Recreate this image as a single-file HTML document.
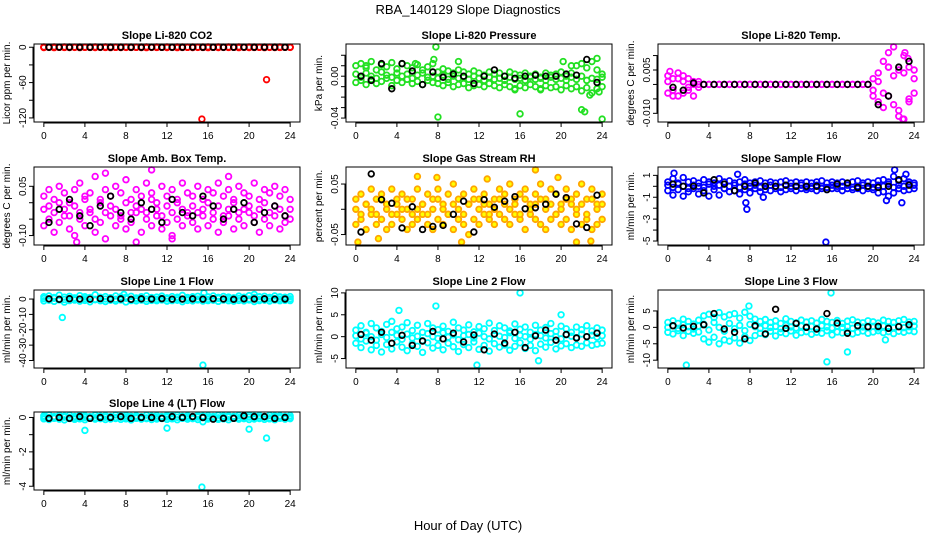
<!DOCTYPE html>
<html><head><meta charset="utf-8"><title>RBA_140129 Slope Diagnostics</title>
<style>
html,body{margin:0;padding:0;background:#fff;}
svg{display:block;font-family:"Liberation Sans",Arial,sans-serif;}
</style></head>
<body>
<svg id="chart" width="936" height="540" viewBox="0 0 936 540">
<text x="468" y="14" text-anchor="middle" font-size="13">RBA_140129  Slope Diagnostics</text>
<text x="468" y="530" text-anchor="middle" font-size="13">Hour of Day (UTC)</text>
</svg>
<script>
const hoursHalf=[0,0.5,1,1.5,2,2.5,3,3.5,4,4.5,5,5.5,6,6.5,7,7.5,8,8.5,9,9.5,10,10.5,11,11.5,12,12.5,13,13.5,14,14.5,15,15.5,16,16.5,17,17.5,18,18.5,19,19.5,20,20.5,21,21.5,22,22.5,23,23.5,24];
const hoursBlack=[0.5,1.5,2.5,3.5,4.5,5.5,6.5,7.5,8.5,9.5,10.5,11.5,12.5,13.5,14.5,15.5,16.5,17.5,18.5,19.5,20.5,21.5,22.5,23.5];
const xTicks=[0,4,8,12,16,20,24];

// CO2
const co2A=[0.5,0.3,0.6,0.2,0.4,0.5,0.3,0.6,0.2,0.4,0.5,0.3,0.4,0.6,0.2,0.5,0.3,0.4,0.2,0.5,0.6,0.3,0.4,0.2,0.5,0.3,0.6,0.4,0.2,0.5,0.3,0.4,0.6,0.2,0.5,0.3,0.4,0.2,0.6,0.3,0.5,0.4,0.2,0.6,0.3,0.5,0.4,0.2,0.3];
const co2B=[-0.5,-0.3,-0.6,-0.2,-0.4,-0.5,-0.3,-0.6,-0.2,-0.4,-0.5,-0.3,-0.4,-0.6,-0.2,-0.5,-0.3,-0.4,-0.2,-0.5,-0.6,-0.3,-0.4,-0.2,-0.5,-0.3,-0.6,-0.4,-0.2,-0.5,-0.3,-0.4,-0.6,-0.2,-0.5,-0.3,-0.4,-0.2,-0.6,-0.3,-0.5,-0.4,-0.2,-0.6,-0.3,-0.5,-0.4,-0.2,-0.3];
const co2C=[0,0.1,-0.1,0,0.1,0,-0.1,0,0.1,0,-0.1,0,0,0.1,0,-0.1,0,0.1,0,0,-0.1,0,0.1,0,0,-0.1,0,0.1,0,0,-0.1,0,0.1,0,0,-0.1,0,0.1,0,0,-0.1,0,0.1,0,0,-0.1,0,0.1,0];
const co2K=[0,0.1,0,-0.1,0,0.1,0,-0.1,0,0,0.1,0,-0.1,0,0.1,0,0,-0.1,0,0.1,0,0,-0.1,0];
const co2OutX=[15.4,21.7];
const co2OutY=[-122,-55];
const co2Ticks=[0,-30,-60,-90,-120];
const co2Labels=["0","","-60","","-120"];

// Pressure
const presA=[0.010,0.012,0.008,0.014,0.006,0.011,0.009,0.013,0.007,0.012,0.010,0.008,0.011,0.006,0.009,0.012,0.004,0.007,0.005,0.003,0.006,0.004,0.002,0.005,0.003,0.001,0.004,0.002,0.003,0.000,0.004,0.002,0.001,0.003,0.000,0.002,-0.001,0.003,0.001,0.002,0.004,0.000,0.003,0.010,0.012,0.008,0.014,0.006,0.002];
const presB=[-0.006,-0.004,-0.008,-0.003,-0.007,-0.005,-0.002,-0.009,-0.004,-0.006,-0.003,-0.007,-0.005,-0.008,-0.004,-0.006,-0.007,-0.009,-0.006,-0.010,-0.008,-0.007,-0.011,-0.009,-0.008,-0.010,-0.007,-0.009,-0.011,-0.008,-0.010,-0.012,-0.009,-0.011,-0.008,-0.010,-0.012,-0.009,-0.011,-0.010,-0.013,-0.009,-0.012,-0.010,-0.014,-0.011,-0.016,-0.012,-0.010];
const presC=[0.002,-0.001,0.003,0.000,-0.002,0.004,0.001,-0.001,0.003,0.000,0.002,-0.002,0.001,0.003,-0.001,0.000,-0.002,0.001,-0.003,0.000,-0.002,-0.001,-0.003,0.000,-0.002,-0.004,-0.001,-0.003,-0.002,-0.004,-0.001,-0.003,-0.002,-0.004,-0.001,-0.003,-0.002,-0.004,-0.001,-0.003,-0.002,-0.004,-0.001,-0.003,0.000,-0.004,-0.002,-0.003,-0.001];
const presK=[0.000,-0.004,0.012,-0.012,0.012,0.005,-0.008,0.004,-0.001,0.002,0.000,-0.007,0.000,0.006,0.000,-0.002,0.000,0.001,0.000,0.000,0.002,0.001,0.016,-0.006];
const presOutX=[7.8,8.0,7.6,1.0,5.8,10.0,15.5,16.0,18.0,22.0,22.3,22.8,23.5,23.7,24.0,20.2,21.0];
const presOutY=[0.028,-0.039,0.016,0.010,0.012,0.014,-0.013,-0.036,-0.013,-0.032,-0.034,-0.018,0.017,-0.015,-0.041,0.014,0.010];
const presTicks=[0.02,0.01,0,-0.01,-0.02,-0.03,-0.04];
const presLabels=["","","0.00","","","","-0.04"];

// Li-820 Temp
const tempA=[0.003,-0.002,0.004,-0.003,0.002,-0.004,0.001,0,0,0,0,0,0,0,0,0,0,0,0,0,0,0,0,0,0,0,0,0,0,0,0,0,0,0,0,0,0,0,0,0,0.002,-0.006,0.008,-0.004,0.013,-0.011,0.010,0.006,-0.003];
const tempB=[-0.003,0.002,-0.004,0.003,-0.002,0.001,-0.001,0,0,0,0,0,0,0,0,0,0,0,0,0,0,0,0,0,0,0,0,0,0,0,0,0,0,0,0,0,0,0,0,0,-0.002,0.004,-0.008,0.006,-0.007,0.005,-0.012,-0.005,0.002];
const tempC=[0.001,-0.004,0.002,0.001,-0.001,0,0,0,0,0,0,0,0,0,0,0,0,0,0,0,0,0,0,0,0,0,0,0,0,0,0,0,0,0,0,0,0,0,0,0,-0.004,0.001,-0.003,0.011,0.003,-0.009,0.004,-0.006,0.005];
const tempK=[-0.001,-0.002,0.0005,0,0,0,0,0,0,0,0,0,0,0,0,0,0,0,0,0,-0.007,-0.004,0.006,0.008];
const tempOutX=[0.2,21.5,22.9,23.1,23.4];
const tempOutY=[0.0045,0.006,-0.012,0.011,0.009];
const tempTicks=[0.010,0.005,0,-0.005,-0.010];
const tempLabels=["","0.005","","","-0.010"];

// Amb Box Temp
const ambA=[0.02,0.04,0.01,0.05,0.03,0.00,0.04,0.06,0.02,0.03,0.08,0.01,0.04,0.02,0.05,0.03,0.07,0.01,0.04,0.02,0.06,0.03,0.00,0.05,0.02,0.04,0.01,0.06,0.03,0.02,0.05,0.01,0.04,0.03,0.06,0.02,0.04,0.00,0.05,0.03,0.02,0.06,0.01,0.04,0.03,0.05,0.02,0.04,0.01];
const ambB=[-0.07,-0.05,-0.09,-0.06,-0.04,-0.08,-0.10,-0.05,-0.07,-0.03,-0.09,-0.06,-0.11,-0.04,-0.07,-0.05,-0.08,-0.06,-0.03,-0.09,-0.05,-0.07,-0.04,-0.08,-0.06,-0.10,-0.05,-0.07,-0.03,-0.06,-0.08,-0.04,-0.07,-0.05,-0.09,-0.06,-0.04,-0.08,-0.05,-0.07,-0.03,-0.06,-0.09,-0.05,-0.07,-0.04,-0.08,-0.06,-0.05];
const ambC=[-0.02,-0.01,-0.03,0.00,-0.02,-0.04,-0.01,-0.03,0.01,-0.02,-0.05,0.00,-0.03,-0.01,-0.02,-0.04,0.00,-0.03,-0.01,-0.02,-0.03,0.01,-0.02,-0.04,-0.01,-0.03,0.00,-0.02,-0.04,-0.01,-0.03,-0.02,0.00,-0.03,-0.01,-0.04,-0.02,0.01,-0.03,-0.02,-0.01,-0.04,-0.02,0.00,-0.03,-0.01,-0.02,-0.04,-0.02];
const ambK=[-0.06,-0.02,0.01,-0.04,-0.07,-0.01,0.02,-0.03,-0.05,0.00,-0.02,-0.06,0.01,-0.03,-0.04,0.02,-0.01,-0.05,-0.02,0.00,-0.06,-0.03,-0.01,-0.04];
const ambOutX=[10.5,3.2,6.0,12.5,18.0,9.0];
const ambOutY=[0.10,-0.12,0.09,-0.11,0.08,-0.12];
const ambTicks=[0.05,0,-0.05,-0.10];
const ambLabels=["0.05","","","-0.10"];

// Gas Stream RH
const rhA=[0.02,0.03,0.01,0.04,0.02,0.03,0.01,0.04,0.02,0.03,0.00,0.02,0.04,0.01,0.03,0.02,0.04,0.01,0.03,0.05,0.02,0.03,0.01,0.04,0.02,0.03,0.01,0.02,0.04,0.03,0.05,0.02,0.03,0.04,0.01,0.03,0.05,0.02,0.04,0.03,0.01,0.04,0.02,0.03,0.05,0.02,0.04,0.01,0.03];
const rhB=[-0.03,-0.02,-0.04,-0.01,-0.03,-0.02,-0.04,-0.03,-0.01,-0.02,-0.04,-0.03,-0.02,-0.01,-0.03,-0.04,-0.02,-0.03,-0.01,-0.04,-0.02,-0.03,-0.05,-0.02,-0.03,-0.01,-0.02,-0.03,-0.01,-0.02,-0.03,-0.01,-0.02,-0.04,-0.01,-0.02,-0.03,-0.04,-0.02,-0.01,-0.03,-0.02,-0.04,-0.01,-0.03,-0.02,-0.04,-0.03,-0.02];
const rhC=[0.00,-0.01,0.01,0.00,-0.01,0.02,0.00,-0.01,0.01,0.00,0.02,-0.01,0.00,0.01,-0.01,0.00,0.02,0.00,-0.01,0.01,0.00,-0.01,0.01,0.02,0.00,0.01,-0.01,0.00,0.02,0.01,0.00,0.01,-0.01,0.02,0.00,0.01,0.02,0.00,0.01,-0.01,0.00,0.02,0.01,0.00,0.01,-0.01,0.02,0.00,0.01];
const rhK=[-0.045,0.070,0.019,0.012,-0.037,0.005,-0.040,-0.034,-0.032,-0.010,0.016,-0.045,0.019,0.004,0.016,0.025,0.001,0.003,0.010,0.030,0.023,-0.029,-0.036,0.028];
const rhOutX=[0.2,6.0,7.9,10.3,12.8,17.5,19.7,22.9,21.5,2.2];
const rhOutY=[-0.065,0.065,0.063,-0.065,0.060,0.078,0.063,-0.063,-0.065,-0.058];
const rhTicks=[0.05,0,-0.05];
const rhLabels=["0.05","","-0.05"];

// Sample Flow
const sfA=[0.4,0.7,0.3,0.8,0.4,0.5,0.3,0.6,0.4,0.3,0.7,0.4,0.5,0.3,0.4,0.6,0.3,0.4,0.5,0.3,0.4,0.3,0.4,0.5,0.3,0.4,0.3,0.4,0.3,0.4,0.5,0.3,0.4,0.3,0.4,0.3,0.4,0.5,0.3,0.4,0.3,0.5,0.6,0.4,0.9,0.5,0.7,0.4,0.3];
const sfB=[-0.4,-0.8,-0.3,-0.9,-0.5,-0.2,-0.7,-0.4,-0.9,-0.3,-0.8,-0.2,-0.5,-0.4,-0.7,-0.3,-0.6,-0.2,-0.5,-0.3,-0.4,-0.2,-0.5,-0.3,-0.2,-0.4,-0.2,-0.3,-0.2,-0.4,-0.2,-0.3,-0.2,-0.2,-0.4,-0.2,-0.3,-0.2,-0.4,-0.2,-0.3,-0.6,-0.5,-0.9,-0.6,-0.2,-0.4,-0.3,-0.2];
const sfC=[0.1,-0.1,0.2,0.0,-0.2,0.1,0.0,-0.1,0.2,0.0,0.1,-0.2,0.0,0.1,-0.1,0.2,0.0,0.1,-0.1,0.0,0.1,0.0,-0.1,0.1,0.0,0.0,0.1,-0.1,0.0,0.1,0.0,-0.1,0.1,0.0,0.0,0.1,-0.1,0.0,0.1,0.0,-0.1,0.1,0.0,0.2,-0.1,0.1,0.0,0.2,0.1];
const sfK=[0.2,0.0,0.0,-0.6,0.6,0.2,-0.4,0.0,0.3,0.0,0.0,0.1,0.0,0.0,0.0,-0.3,0.2,0.3,-0.1,0.0,-0.1,0.0,0.6,0.1];
const sfOutX=[0.6,6.8,7.6,7.7,9.3,15.4,21.3,22.1,22.8,23.2];
const sfOutY=[1.2,1.1,-1.5,-2.1,-1.0,-5.1,-1.3,1.5,-1.5,1.1];
const sfTicks=[1,0,-1,-2,-3,-4,-5];
const sfLabels=["1","","-1","","-3","","-5"];

// Line 1
const l1A=[1.5,2.0,1.0,2.5,1.2,1.8,0.8,2.2,1.5,1.0,2.8,1.2,1.6,0.9,2.0,1.4,1.1,1.8,0.7,1.5,2.1,1.0,1.3,1.9,0.8,1.6,1.2,2.4,1.0,1.5,1.8,0.9,1.4,2.0,1.1,1.7,1.3,0.8,1.9,1.2,2.2,1.0,1.5,1.8,1.1,2.0,1.4,1.2,1.6];
const l1B=[-1.2,-0.8,-1.5,-0.6,-2.0,-1.0,-0.7,-1.4,-0.9,-1.8,-0.5,-1.1,-1.6,-0.8,-1.3,-0.6,-1.9,-1.0,-1.2,-0.7,-1.5,-0.9,-1.1,-0.6,-1.4,-1.0,-0.8,-1.7,-0.9,-1.2,-0.6,-1.3,-1.0,-0.8,-1.5,-0.7,-1.1,-1.4,-0.9,-1.2,-0.6,-1.6,-1.0,-0.8,-1.3,-0.7,-1.1,-0.9,-1.0];
const l1C=[0.3,-0.2,0.5,0.0,-0.3,0.4,0.1,-0.1,0.2,0.6,-0.2,0.3,0.0,0.4,-0.1,0.2,0.5,-0.3,0.1,0.3,0.0,0.2,-0.2,0.4,0.1,0.0,0.3,-0.1,0.2,0.5,0.0,0.3,-0.2,0.1,0.4,0.0,0.2,-0.1,0.3,0.1,0.0,0.4,-0.2,0.2,0.1,0.3,0.0,0.2,0.1];
const l1K=[0.1,-0.2,0.2,0.0,-0.1,0.3,0.0,0.1,-0.2,0.1,0.0,0.2,-0.1,0.0,0.1,-0.1,0.2,0.0,-0.2,0.1,0.0,0.1,-0.1,0.0];
const l1OutX=[15.5,1.8,15.6,7.8,20.5];
const l1OutY=[-43,-12,4,3,3];
const l1Ticks=[0,-10,-20,-30,-40];
const l1Labels=["0","-10","-20","-30","-40"];

// Line 2
const l2A=[1.5,2.5,1.0,3.0,2.0,1.2,2.8,3.5,1.8,2.2,3.2,1.4,2.6,1.0,3.0,2.0,1.6,2.4,1.2,3.3,2.0,1.5,2.7,1.1,2.3,1.8,3.1,1.4,2.5,2.0,1.3,2.9,1.7,2.2,1.0,2.6,1.5,2.1,3.0,1.2,2.4,1.8,1.0,2.2,1.6,2.5,1.3,2.0,1.5];
const l2B=[-1.5,-2.5,-1.0,-3.0,-2.0,-3.5,-1.8,-2.8,-1.2,-2.4,-3.2,-1.6,-2.2,-3.6,-1.4,-2.6,-2.0,-3.0,-1.5,-2.3,-3.4,-1.8,-2.5,-1.2,-2.9,-2.0,-3.3,-1.6,-2.4,-1.9,-3.1,-2.2,-1.4,-2.7,-2.0,-3.2,-1.7,-2.4,-1.3,-2.8,-2.1,-1.6,-2.5,-1.9,-2.2,-1.4,-2.0,-1.7,-1.5];
const l2C=[0.2,-0.5,0.8,0.0,-0.8,0.5,-0.2,1.0,0.3,-0.6,0.6,-0.3,0.1,-0.9,0.7,0.0,-0.4,0.9,-0.1,0.4,-0.7,0.2,0.5,-0.3,0.8,0.0,-0.5,0.6,0.1,-0.2,0.9,-0.4,0.3,0.0,-0.6,0.5,0.2,-0.3,0.7,0.0,-0.5,0.4,0.1,-0.2,0.6,0.0,0.3,-0.1,0.2];
const l2K=[0.5,-0.8,1.0,-1.5,0.3,-2.0,-1.0,1.2,-0.5,0.8,-1.2,0.4,-3.0,0.6,-1.5,1.0,-2.5,0.2,1.5,-0.8,0.5,-0.3,0.0,0.8];
const l2OutX=[16.0,11.8,7.8,17.8,4.2,20.0];
const l2OutY=[10,-6.5,7,-5.5,6,5];
const l2Ticks=[10,5,0,-5];
const l2Labels=["10","5","0","-5"];

// Line 3
const l3A=[1.5,2.0,1.2,2.5,1.8,1.0,2.2,3.5,4.0,3.0,4.5,3.2,3.8,4.2,2.8,4.6,3.4,2.5,1.8,2.4,1.5,2.0,1.2,2.6,1.8,1.4,2.2,1.6,2.0,1.3,2.4,1.8,1.5,2.1,1.2,1.9,2.3,1.6,1.4,2.0,1.7,1.3,2.2,1.8,1.5,2.0,2.4,1.6,1.8];
const l3B=[-1.5,-2.0,-1.0,-2.5,-1.2,-1.8,-1.4,-3.5,-4.5,-3.0,-5.0,-3.8,-4.2,-3.2,-4.8,-2.8,-4.0,-2.5,-1.8,-2.2,-1.2,-2.6,-1.5,-1.9,-1.1,-2.4,-1.6,-1.3,-2.1,-1.5,-1.8,-1.0,-2.3,-1.4,-1.7,-1.2,-2.0,-1.5,-1.1,-1.8,-1.4,-1.0,-1.6,-1.3,-1.9,-1.2,-1.5,-1.0,-1.3];
const l3C=[0.0,0.5,-0.3,0.8,0.2,-0.5,0.4,1.0,-0.8,1.5,0.0,-1.2,1.2,-0.4,0.6,-1.0,0.9,0.2,-0.3,0.5,0.0,0.3,-0.4,0.6,0.1,-0.2,0.4,0.0,0.3,-0.3,0.5,0.1,-0.2,0.4,0.0,0.2,-0.3,0.5,0.1,0.0,0.3,-0.2,0.4,0.1,0.0,0.3,-0.1,0.2,0.4];
const l3K=[0.5,-0.2,0.3,0.8,4.2,-0.5,-1.5,-3.5,0.5,-2.0,5.5,-0.3,1.2,0.0,-0.5,4.2,1.3,-1.8,0.5,0.2,0.3,-0.3,0.2,0.8];
const l3OutX=[15.9,1.8,15.5,17.5,7.9,21.2];
const l3OutY=[10.5,-11.5,-10.5,-7.5,6.5,-3.8];
const l3Ticks=[5,0,-5,-10];
const l3Labels=["5","0","-5","-10"];

// Line 4
const l4A=[0.10,0.15,0.05,0.12,0.08,0.14,0.06,0.12,0.10,0.05,0.13,0.08,0.11,0.06,0.14,0.09,0.12,0.07,0.10,0.05,0.13,0.08,0.11,0.06,0.12,0.09,0.14,0.07,0.10,0.05,0.12,0.08,0.11,0.06,0.13,0.09,0.10,0.07,0.12,0.05,0.14,0.08,0.11,0.06,0.12,0.09,0.10,0.07,0.11];
const l4B=[-0.08,-0.12,-0.05,-0.10,-0.14,-0.06,-0.11,-0.08,-0.13,-0.05,-0.10,-0.07,-0.12,-0.09,-0.06,-0.11,-0.08,-0.14,-0.05,-0.10,-0.07,-0.12,-0.09,-0.06,-0.11,-0.08,-0.13,-0.05,-0.10,-0.07,-0.12,-0.25,-0.09,-0.06,-0.11,-0.08,-0.13,-0.05,-0.10,-0.07,-0.12,-0.09,-0.06,-0.11,-0.08,-0.13,-0.05,-0.10,-0.07];
const l4C=[0.02,0.00,0.01,-0.01,0.02,0.00,-0.02,0.01,0.00,0.02,-0.01,0.00,0.01,-0.02,0.00,0.02,0.01,-0.01,0.00,0.02,-0.02,0.01,0.00,-0.01,0.02,0.00,0.01,-0.02,0.00,0.01,0.02,-0.01,0.00,0.01,-0.02,0.00,0.02,0.01,-0.01,0.00,0.02,-0.01,0.00,0.01,-0.02,0.00,0.01,0.02,0.00];
const l4K=[-0.05,0.00,-0.05,0.05,-0.05,0.00,0.00,0.05,-0.05,0.00,0.00,-0.05,0.05,0.00,0.05,0.00,-0.10,-0.05,-0.05,0.10,0.05,0.05,-0.05,0.00];
const l4OutX=[15.4,4.0,12.0,20.0,21.7];
const l4OutY=[-4.05,-0.75,-0.62,-0.68,-1.2];
const l4Ticks=[0,-1,-2,-3,-4];
const l4Labels=["0","","-2","","-4"];

const NS="http://www.w3.org/2000/svg";
const svg=document.getElementById('chart');
function mk(tag,attrs,parent){const e=document.createElementNS(NS,tag);for(const k in attrs)e.setAttribute(k,attrs[k]);parent.appendChild(e);return e;}

const panels=[
 {id:'co2',title:'Slope Li-820 CO2',ylab:'Licor ppm per min.',L:34,T:44,col:'#ff0000',A:co2A,B:co2B,C:co2C,K:co2K,ox:co2OutX,oy:co2OutY,ticks:co2Ticks,labels:co2Labels},
 {id:'pressure',title:'Slope Li-820 Pressure',ylab:'kPa per min.',L:346,T:44,col:'#22e022',A:presA,B:presB,C:presC,K:presK,ox:presOutX,oy:presOutY,ticks:presTicks,labels:presLabels},
 {id:'temp',title:'Slope Li-820 Temp.',ylab:'degrees C per min.',L:658,T:44,col:'#ff00ff',A:tempA,B:tempB,C:tempC,K:tempK,ox:tempOutX,oy:tempOutY,ticks:tempTicks,labels:tempLabels},
 {id:'amb-box-temp',title:'Slope Amb. Box Temp.',ylab:'degrees C per min.',L:34,T:167,col:'#ff00ff',A:ambA,B:ambB,C:ambC,K:ambK,ox:ambOutX,oy:ambOutY,ticks:ambTicks,labels:ambLabels},
 {id:'gas-stream-rh',title:'Slope Gas Stream RH',ylab:'percent per min.',L:346,T:167,col:'#ffa500',fill:'#ffff00',A:rhA,B:rhB,C:rhC,K:rhK,ox:rhOutX,oy:rhOutY,ticks:rhTicks,labels:rhLabels},
 {id:'sample-flow',title:'Slope Sample Flow',ylab:'ml/min per min.',L:658,T:167,col:'#0000ff',A:sfA,B:sfB,C:sfC,K:sfK,ox:sfOutX,oy:sfOutY,ticks:sfTicks,labels:sfLabels},
 {id:'line-1-flow',title:'Slope Line 1 Flow',ylab:'ml/min per min.',L:34,T:290,col:'#00ffff',A:l1A,B:l1B,C:l1C,K:l1K,ox:l1OutX,oy:l1OutY,ticks:l1Ticks,labels:l1Labels},
 {id:'line-2-flow',title:'Slope Line 2 Flow',ylab:'ml/min per min.',L:346,T:290,col:'#00ffff',A:l2A,B:l2B,C:l2C,K:l2K,ox:l2OutX,oy:l2OutY,ticks:l2Ticks,labels:l2Labels},
 {id:'line-3-flow',title:'Slope Line 3 Flow',ylab:'ml/min per min.',L:658,T:290,col:'#00ffff',A:l3A,B:l3B,C:l3C,K:l3K,ox:l3OutX,oy:l3OutY,ticks:l3Ticks,labels:l3Labels},
 {id:'line-4-flow',title:'Slope Line 4 (LT) Flow',ylab:'ml/min per min.',L:34,T:412,col:'#00ffff',A:l4A,B:l4B,C:l4C,K:l4K,ox:l4OutX,oy:l4OutY,ticks:l4Ticks,labels:l4Labels}
];
const W=266,H=78;

panels.forEach(p=>{
 const g=mk('g',{},svg);
 
 
 const all=[].concat(p.A,p.B,p.C,p.K,p.oy);
 let mn=Math.min(...all),mx=Math.max(...all);
 const pad=(mx-mn)*0.04; mn-=pad; mx+=pad;
 const xs=v=>p.L+W*(v+0.96)/25.92;
 const ys=v=>p.T+H*(mx-v)/(mx-mn);
 const t=mk('text',{x:p.L+W/2,y:p.T-5,'text-anchor':'middle','font-size':11,'font-weight':'bold'},g);
 t.textContent=p.title;
 
 
 const pts=mk('g',{fill:p.fill||'none',stroke:p.col,'stroke-width':1.8},g);
 
 
 [p.A,p.B,p.C].forEach(arr=>arr.forEach((v,i)=>{
   const c=mk('circle',{cx:xs(hoursHalf[i]),cy:ys(v),r:2.8},pts);
   
   
 }));
 p.ox.forEach((x,i)=>{
   const c=mk('circle',{cx:xs(x),cy:ys(p.oy[i]),r:2.8},pts);
   
   
 });
 const kg=mk('g',{fill:'none',stroke:'#000','stroke-width':1.8},g);
 
 
 p.K.forEach((v,i)=>{
   const c=mk('circle',{cx:xs(hoursBlack[i]),cy:ys(v),r:2.8},kg);
   
   
 });
 const box=mk('rect',{x:p.L,y:p.T,width:W,height:H,fill:'none',stroke:'#000','stroke-width':1},g);
 
 
 const xa=mk('g',{},g);
 
 
 mk('line',{x1:xs(0),x2:xs(24),y1:p.T+H+1,y2:p.T+H+1,stroke:'#000'},xa);
 xTicks.forEach(v=>{
   mk('line',{x1:xs(v),x2:xs(v),y1:p.T+H,y2:p.T+H+5,stroke:'#000'},xa);
   const tl=mk('text',{x:xs(v),y:p.T+H+17,'text-anchor':'middle','font-size':10},xa);
   tl.textContent=v;
   
   
 });
 const ya=mk('g',{},g);
 
 
 mk('line',{x1:p.L-1,x2:p.L-1,y1:ys(p.ticks[0]),y2:ys(p.ticks[p.ticks.length-1]),stroke:'#000'},ya);
 p.ticks.forEach((v,i)=>{
   const y=ys(v);
   mk('line',{x1:p.L-5,x2:p.L,y1:y,y2:y,stroke:'#000'},ya);
   if(p.labels[i]){
     const tl=mk('text',{x:p.L-8,y:y,'text-anchor':'middle','font-size':10,transform:`rotate(-90 ${p.L-8} ${y})`},ya);
     tl.textContent=p.labels[i];
     
     
   }
 });
 const yl=mk('text',{x:p.L-24,y:p.T+H/2,'text-anchor':'middle','font-size':10,transform:`rotate(-90 ${p.L-24} ${p.T+H/2})`},g);
 yl.textContent=p.ylab;
 
 
});
</script>
</body></html>
